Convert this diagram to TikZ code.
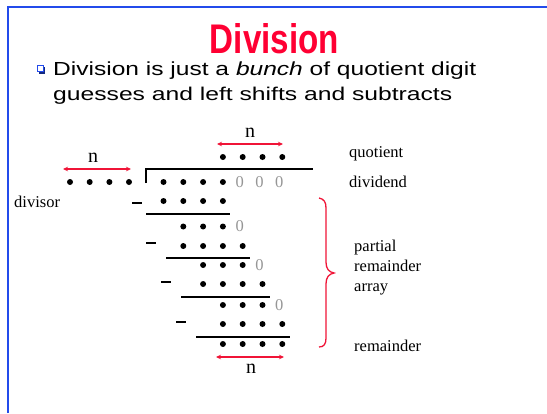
\documentclass[tikz,border=0pt]{standalone}
\usepackage{fontspec}
\setmainfont{Liberation Serif}
\newfontfamily\slidefont{Liberation Sans}
\usepackage{graphicx}
\usetikzlibrary{arrows.meta}
\definecolor{slideblue}{RGB}{35,75,235}
\definecolor{slidered}{RGB}{240,20,55}
\definecolor{titlered}{RGB}{255,0,51}
\definecolor{zerogray}{RGB}{150,150,150}
\begin{document}
\begin{tikzpicture}[x=1pt,y=-1pt,
  dot/.style={circle,fill=black,inner sep=0pt,minimum size=6pt},
  zero/.style={text=zerogray,font=\fontsize{16.5}{18}\selectfont,inner sep=0pt},
  lbl/.style={font=\fontsize{16.5}{18}\selectfont,inner sep=0pt,anchor=base west},
  nlbl/.style={font=\fontsize{20}{22}\selectfont,inner sep=0pt,anchor=base},
  rule/.style={line width=2.5pt},
  minus/.style={line width=2.6pt},
  narrow/.style={slidered,line width=1.1pt,{Stealth[length=5pt,width=4.5pt]}-{Stealth[length=5pt,width=4.5pt]}},
  bodytext/.style={anchor=base west,inner sep=0pt}
]
\useasboundingbox (0,0) rectangle (547,413);
\fill[white] (0,0) rectangle (547,413);
% slide frame
\draw[slideblue,line width=2.4pt] (8,413) -- (8,7) -- (547,7);

% title
\node[anchor=base,inner sep=0pt,text=titlered] (title) at (274.5,53)
  {\resizebox{129pt}{30pt}{\slidefont\bfseries Division}};

% bullet
\fill[slideblue!55!black] (38.5,66.5) rectangle (45,73.5);
\filldraw[fill=white,draw=slideblue,line width=1pt] (37,65) rectangle (43.5,71.5);
\node[bodytext] (line1) at (53,75.7)
  {\resizebox{423pt}{13.7pt}{\slidefont Division is just a \textit{bunch} of quotient digit}};
\node[bodytext] (line2) at (53,100)
  {\resizebox{399pt}{13.4pt}{\slidefont guesses and left shifts and subtracts}};

% divisor dots
\foreach \i/\x in {1/70,2/89.7,3/109.4,4/129}
  \node[dot] (dv\i) at (\x,182) {};

% quotient dots
\foreach \k in {4,...,7}
  \node[dot] (q\k) at ({163.5+19.8*(\k-1)},157) {};

% rows of dots: name/y/first/last
\foreach \r/\y/\a/\b in {r1/182/1/4, r2/201/1/4, r3/226.5/2/4, r4/246/2/5,
                          r5/265/3/5, r6/284/3/6, r7/305/4/6, r8/324/4/7, r9/344/4/7}
  \foreach \k in {\a,...,\b}
    \node[dot] (\r-\k) at ({163.5+19.8*(\k-1)},\y) {};

% gray zeros
\foreach \n/\k/\y in {z1/5/182, z2/6/182, z3/7/182, z4/5/226.5, z5/6/265, z6/7/305}
  \node[zero] (\n) at ({163.5+19.8*(\k-1)-3},\y) {0};

% division bracket
\draw[rule] (146,183) -- (146,169) -- (313,169);

% subtraction rules
\draw[rule] (146,214) -- (230,214);
\draw[rule] (166,258) -- (250,258);
\draw[rule] (181,297) -- (270,297);
\draw[rule] (196,337) -- (290,337);

% minus signs
\draw[minus] (132,203) -- (142,203);
\draw[minus] (146,243) -- (156,243);
\draw[minus] (161,282) -- (171,282);
\draw[minus] (176,322) -- (186,322);

% n arrows
\coordinate (la) at (63,169); \coordinate (lb) at (131,169);
\coordinate (ta) at (217,144); \coordinate (tb) at (283,144);
\coordinate (ba) at (216,357); \coordinate (bb) at (284,357);
\draw[narrow] (la) -- (lb);
\draw[narrow] (ta) -- (tb);
\draw[narrow] (ba) -- (bb);
\node[nlbl] (nl) at (93,162) {n};
\node[nlbl] (nt) at (250,137) {n};
\node[nlbl] (nb) at (251,373) {n};

% brace
\draw[slidered,line width=1.3pt] (319,198) .. controls (324,199) and (326,202) .. (326,208)
  -- (326,262) .. controls (326,269) and (329,272) .. (334,273)
  .. controls (329,274) and (326,277) .. (326,284)
  -- (326,338) .. controls (326,344) and (324,347) .. (319,347);

% labels
\node[lbl] (quot) at (349,157.5) {quotient};
\node[lbl] (divd) at (349,187) {dividend};
\node[lbl] (divs) at (14,207) {divisor};
\node[lbl] (part) at (354,251) {partial};
\node[lbl] (rem1) at (354,271) {remainder};
\node[lbl] (arr) at (354,291) {array};
\node[lbl] (rem2) at (354,351) {remainder};
\end{tikzpicture}
\end{document}
